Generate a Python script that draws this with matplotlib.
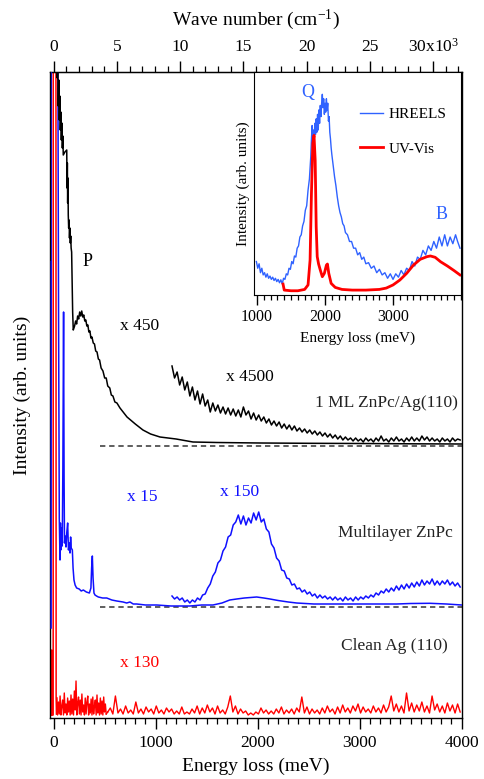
import numpy as np
import matplotlib
matplotlib.use("Agg")
import matplotlib.pyplot as plt

plt.rcParams['font.family'] = ['Liberation Serif', 'DejaVu Serif']
plt.rcParams['mathtext.fontset'] = 'custom'
plt.rcParams['mathtext.rm'] = 'Liberation Serif'
plt.rcParams['mathtext.it'] = 'Liberation Serif:italic'

# ---------------- data (energy loss in meV, intensity in arb. units) ----------------
# 1 ML ZnPc/Ag(110), x450
ml_E = [-33, -31, 25, 35, 40, 45, 50, 55, 60, 65, 70, 75, 80, 85, 90, 94, 110, 128, 131, 134,
        137, 140, 143, 147, 151, 155, 159, 163, 167, 171, 176, 186, 192,
        205, 215, 225, 235, 245, 255, 265, 275, 285, 295, 305, 315, 325, 335, 345, 355, 365, 375,
        388, 400, 412, 425, 438, 450, 465, 483, 500, 515, 530, 550, 565, 581, 600, 620, 650,
        719, 800, 875, 950, 1042, 1200, 1366, 1600, 2023, 2500, 3000, 3500, 4000]
ml_I = [458, 700, 700, 640, 655, 612, 638, 598, 622, 588, 606, 578, 595, 570, 582, 563, 566, 568, 530, 555,
        515, 540, 503, 490, 498, 480, 490, 475, 482, 470, 466, 406, 388,
        392, 397, 394, 402, 399, 406, 402, 407, 401, 403, 397, 398, 392, 393, 386, 387, 380, 381,
        375, 374, 367, 366, 359, 358, 350, 347, 340, 340, 332, 330, 323, 322, 316, 315, 310,
        301, 294, 288, 284, 281, 279, 276, 275.5, 275, 274.7, 274.5, 274.2, 274]

# 1 ML ZnPc/Ag(110), x4500 (1160 - 3985 meV)
ml4500_I = [352, 340, 346, 333, 341, 328, 336, 322, 331, 318, 327, 314, 324, 312, 318, 306, 315, 307, 313, 305,
            311, 304, 310, 303, 309, 302, 308, 301, 311, 303, 307, 299, 305, 298, 303, 297, 301, 295, 299, 293,
            297, 292, 296, 290, 294, 289, 293, 288, 292, 287, 290, 286, 289, 285, 288, 284, 287, 283, 286, 282,
            285, 281, 284, 280, 283, 279, 282, 278, 281, 278, 280, 277, 280, 277, 279, 276, 280, 277, 279, 276,
            280, 277, 282, 277, 279, 276, 280, 277, 281, 277, 279, 276, 280, 277, 281, 277, 280, 277, 282, 278,
            281, 277, 280, 277, 279, 276, 280, 277, 279, 276, 280, 277, 279, 278]
ml4500_range = (1160, 3985)
ml_base = 272.3

# Multilayer ZnPc, x15
mult_E = [-25, -23, 40, 48, 55, 62, 66, 70, 78, 84, 90, 97, 102, 106, 112, 121, 128, 137, 145, 153,
          160, 166, 172, 183, 190, 199, 210, 225, 250, 270, 291, 320, 350, 365, 372, 379, 386, 395, 405, 420,
          438, 480, 520, 570, 618, 680, 716, 748, 780, 814, 900, 1010, 1150, 1336, 1450, 1562, 1650, 1726, 1794, 1870,
          1990, 2060, 2120, 2200, 2300, 2382, 2550, 2709, 3000, 3362, 3500, 3689, 3850, 4000]
mult_I = [90, 700, 700, 400, 200, 158, 195, 168, 190, 172, 250, 406, 240, 175, 182, 171, 185, 195, 168, 175,
          165, 181, 170, 168, 150, 138, 133, 130, 129, 127, 128, 126, 125, 130, 150, 162, 140, 125, 123, 122,
          121, 120, 120, 118, 117, 116, 115, 116, 114, 114, 113, 113, 112, 112, 113, 113, 115, 118, 119, 120,
          121, 120, 119, 117.5, 116, 115, 114, 114, 114, 114, 114.5, 114.7, 114, 113]

# Multilayer ZnPc, x150 (1160 - 3985 meV)
mult150_I = [122, 119, 121, 118, 120, 116, 118, 115, 118, 116, 120, 118, 123, 124, 130, 134, 142, 146, 155, 158,
             167, 171, 181, 183, 193, 196, 203, 194, 202, 193, 200, 195, 205, 198, 206, 196, 199, 189, 186, 174,
             170, 160, 157, 148, 147, 140, 139, 133, 134, 129, 130, 126, 128, 124, 126, 122, 124, 120, 123, 120,
             122, 119, 121, 118, 121, 118, 120, 117, 121, 118, 120, 117, 121, 118, 121, 119, 122, 120, 123, 121,
             125, 123, 127, 125, 129, 126, 130, 127, 132, 128, 133, 129, 134, 130, 135, 131, 136, 132, 138, 133,
             137, 134, 139, 133, 137, 133, 137, 134, 138, 133, 136, 132, 135, 131]
mult150_range = (1160, 3985)
mult_base = 111.3

# Clean Ag(110), x130
ag_el_E = [-22, -20, -17, -5, -4, 22, 24, 28]
ag_el_I = [3, 68, 3, 3, 700, 700, 20, 4]
ag_low_I = [20, 3, 16, 4, 22, 3, 12, 18, 3, 25, 5, 14, 3, 20, 6, 17, 3, 23, 4, 19,
            3, 27, 8, 37, 3, 15, 21, 4, 18, 3, 24, 6, 13, 3, 20, 4, 16, 22, 3, 14,
            5, 19, 3, 21, 4, 12, 18, 3, 23, 5, 15, 3, 20, 4, 17, 3, 21, 6, 14, 4]
ag_low_range = (30, 515)
ag_I = [6, 10, 4, 22, 5, 9, 4, 12, 5, 8, 4, 16, 5, 9, 4, 11, 6, 9, 4, 12,
        5, 8, 4, 10, 6, 9, 4, 7, 4, 11, 4, 6, 4, 9, 5, 12, 4, 10, 5, 13,
        6, 10, 4, 12, 5, 8, 4, 11, 22, 6, 12, 4, 9, 5, 7, 3, 5, 3, 6, 4,
        10, 5, 8, 4, 7, 4, 9, 5, 11, 4, 8, 5, 9, 4, 10, 6, 21, 5, 11, 4,
        9, 5, 8, 4, 10, 5, 12, 6, 9, 4, 11, 5, 13, 6, 10, 5, 12, 7, 14, 5,
        11, 6, 9, 5, 12, 6, 10, 5, 13, 6, 11, 22, 7, 14, 6, 12, 5, 25, 7, 15,
        6, 13, 7, 16, 6, 12, 5, 22, 8, 14, 6, 12, 5, 15, 7, 13, 5, 14, 6]
ag_range = (530, 3985)

# Inset: HREELS (blue) and UV-Vis (red), normalised intensity
hreels_E = [990, 1010, 1030, 1050, 1070, 1090, 1110, 1130, 1150, 1170, 1190, 1210, 1230, 1250, 1270, 1290,
            1310, 1330, 1350, 1370, 1390, 1410, 1430, 1450, 1470, 1490, 1510, 1530, 1550, 1570, 1590, 1610,
            1630, 1650, 1670, 1690, 1710, 1730, 1750, 1770, 1790, 1800, 1810, 1820, 1830, 1840, 1850, 1860,
            1870, 1880, 1890, 1900, 1910, 1920, 1930, 1940, 1950, 1960, 1970, 1980, 1990, 2000, 2010, 2020,
            2030, 2040, 2050, 2060, 2070, 2080, 2090, 2100, 2120, 2140, 2160, 2180, 2200, 2220, 2240, 2260,
            2280, 2300, 2330, 2360, 2390, 2420, 2450, 2480, 2510, 2540, 2570, 2600, 2640, 2680, 2720, 2760,
            2800, 2840, 2880, 2920, 2960, 3000, 3040, 3080, 3120, 3160, 3200, 3240, 3280, 3320, 3360, 3400,
            3440, 3480, 3520, 3560, 3600, 3640, 3680, 3720, 3760, 3800, 3840, 3880, 3920, 3950, 3985]
hreels_I = [0.15, 0.12, 0.14, 0.10, 0.12, 0.09, 0.10, 0.08, 0.095, 0.075, 0.085, 0.07, 0.08, 0.065, 0.075, 0.06,
            0.07, 0.055, 0.068, 0.05, 0.075, 0.07, 0.095, 0.09, 0.12, 0.115, 0.15, 0.14, 0.175, 0.17, 0.21, 0.22,
            0.26, 0.27, 0.31, 0.33, 0.38, 0.40, 0.47, 0.52, 0.62, 0.70, 0.76, 0.69, 0.74, 0.70, 0.77, 0.72,
            0.79, 0.73, 0.81, 0.74, 0.83, 0.77, 0.85, 0.80, 0.86, 0.90, 0.84, 0.88, 0.81, 0.86, 0.82, 0.88,
            0.83, 0.86, 0.78, 0.80, 0.73, 0.70, 0.66, 0.63, 0.58, 0.53, 0.49, 0.44, 0.40, 0.37, 0.35, 0.32,
            0.31, 0.28, 0.27, 0.24, 0.24, 0.21, 0.21, 0.18, 0.19, 0.16, 0.17, 0.14, 0.145, 0.12, 0.13, 0.10,
            0.115, 0.09, 0.10, 0.075, 0.095, 0.07, 0.095, 0.08, 0.11, 0.09, 0.12, 0.11, 0.15, 0.13, 0.17, 0.16,
            0.20, 0.18, 0.22, 0.20, 0.24, 0.21, 0.26, 0.22, 0.27, 0.22, 0.26, 0.23, 0.27, 0.24, 0.21]
uv_E = [1382, 1400, 1500, 1600, 1700, 1750, 1780, 1800, 1820, 1838, 1855, 1870, 1885, 1905, 1930, 1960,
        1990, 2020, 2035, 2055, 2090, 2150, 2250, 2400, 2600, 2800, 2900, 3000, 3100, 3200, 3300, 3400,
        3500, 3550, 3620, 3700, 3800, 3900, 3985]
uv_I = [0.049, 0.022, 0.019, 0.019, 0.025, 0.045, 0.157, 0.455, 0.679, 0.716, 0.604, 0.306, 0.172, 0.139,
        0.112, 0.082, 0.097, 0.134, 0.139, 0.097, 0.052, 0.034, 0.025, 0.022, 0.022, 0.025, 0.031, 0.045,
        0.067, 0.097, 0.134, 0.160, 0.172, 0.175, 0.169, 0.149, 0.130, 0.109, 0.090]

MEV_TO_CM = 8.0655

BLACK = '#000000'
BLUE = '#1010ff'
LBLUE = '#2f62ff'
RED = '#ff0000'

# ---------------- figure ----------------
W, H = 484, 779
fig = plt.figure(figsize=(W / 100, H / 100), dpi=100)
ax = fig.add_axes([49.5 / W, 1 - 718 / H, (462 - 49.5) / W, (718 - 72) / H])
ax.set_xlim(-41, 4003)
ax.set_ylim(0, 646)

# clean Ag
lowE = np.linspace(*ag_low_range, len(ag_low_I))
hiE = np.linspace(*ag_range, len(ag_I))
ax.plot(ag_el_E, ag_el_I, color=RED, lw=1.1, zorder=2)
ax.plot(lowE, ag_low_I, color=RED, lw=1.0, zorder=2)
ax.plot(hiE, ag_I, color=RED, lw=1.0, zorder=2)
ax.plot([ag_el_E[-1], lowE[0]], [ag_el_I[-1], ag_low_I[0]], color=RED, lw=1.0)
ax.plot([lowE[-1], hiE[0]], [ag_low_I[-1], ag_I[0]], color=RED, lw=1.0)
# multilayer
ax.plot(mult_E, mult_I, color=BLUE, lw=1.1, zorder=3)
ax.plot(np.linspace(*mult150_range, len(mult150_I)), mult150_I, color=BLUE, lw=1.1, zorder=3)
ax.plot([454, 4000], [mult_base, mult_base], color='#333333', lw=1.1, ls=(0, (3.5, 2.5)), zorder=1)
# monolayer
ax.plot(ml_E, ml_I, color=BLACK, lw=1.1, zorder=4)
ax.plot(np.linspace(*ml4500_range, len(ml4500_I)), ml4500_I, color=BLACK, lw=1.1, zorder=4)
ax.plot([454, 4000], [ml_base, ml_base], color='#333333', lw=1.1, ls=(0, (3.5, 2.5)), zorder=1)

ax.set_yticks([])
ax.set_xticks([0, 1000, 2000, 3000, 4000])
ax.set_xticks(np.arange(0, 4001, 100), minor=True)
ax.tick_params(axis='x', which='major', direction='out', length=8, width=1, labelsize=12.5, pad=4)
ax.tick_params(axis='x', which='minor', direction='out', length=4, width=0.9)
for s in ax.spines.values():
    s.set_linewidth(1.0)
ax.set_xlabel('Energy loss (meV)', fontsize=14, labelpad=5)
ax.set_ylabel('Intensity (arb. units)', fontsize=14, labelpad=13)

sec = ax.secondary_xaxis('top', functions=(lambda e: e * MEV_TO_CM, lambda w: w / MEV_TO_CM))
sec.set_xticks([0, 5000, 10000, 15000, 20000, 25000, 30000])
sec.set_xticklabels(['0', '5', '10', '15', '20', '25', '30x10$^3$'])
sec.set_xticks(np.arange(0, 32001, 1000), minor=True)
sec.tick_params(axis='x', which='major', direction='out', length=8, width=1, labelsize=12.5, pad=4)
sec.tick_params(axis='x', which='minor', direction='out', length=4, width=0.9)
sec.set_xlabel('Wave number (cm$^{-1}$)', fontsize=14, labelpad=9)

txt = dict(fontsize=12.5, va='center')
ax.text(336, 456, 'P', ha='center', color=BLACK, fontsize=13, va='center')
ax.text(846, 392, 'x 450', ha='center', color=BLACK, **txt)
ax.text(1925, 341, 'x 4500', ha='center', color=BLACK, **txt)
ax.text(3964, 315, '1 ML ZnPc/Ag(110)', ha='right', color='#222222', **txt)
ax.text(866, 221, 'x 15', ha='center', color=BLUE, **txt)
ax.text(1827, 226, 'x 150', ha='center', color=BLUE, **txt)
ax.text(3915, 185, 'Multilayer ZnPc', ha='right', color='#222222', **txt)
ax.text(3866, 72, 'Clean Ag (110)', ha='right', color='#222222', **txt)
ax.text(846, 55, 'x 130', ha='center', color=RED, **txt)

# ---------------- inset ----------------
axi = fig.add_axes([254 / W, 1 - 295 / H, (461 - 254) / W, (295 - 72) / H], zorder=5)
axi.set_facecolor('white')
axi.plot(hreels_E, hreels_I, color=LBLUE, lw=1.0, label='HREELS')
axi.plot(uv_E, uv_I, color=RED, lw=2.0, label='UV-Vis')
axi.set_xlim(955, 4000)
axi.set_ylim(0, 1)
axi.set_yticks([])
axi.set_xticks([1000, 2000, 3000])
axi.set_xticks(np.arange(1000, 4001, 100), minor=True)
axi.tick_params(axis='x', which='major', direction='out', length=7, width=1, labelsize=11.5, pad=3)
axi.tick_params(axis='x', which='minor', direction='out', length=3.5, width=0.9)
axi.set_xlabel('Energy loss (meV)', fontsize=11, labelpad=5)
axi.set_ylabel('Intensity (arb. units)', fontsize=11, labelpad=3)
axi.text(1750, 0.91, 'Q', color=LBLUE, fontsize=13, ha='center', va='center')
axi.text(3720, 0.36, 'B', color=LBLUE, fontsize=13, ha='center', va='center')
leg = axi.legend(loc='upper left', bbox_to_anchor=(0.512, 0.84), frameon=False, fontsize=11,
                 handlelength=1.5, handletextpad=0.4, labelspacing=1.35, borderpad=0, borderaxespad=0)

fig.savefig('out.png', dpi=100)
